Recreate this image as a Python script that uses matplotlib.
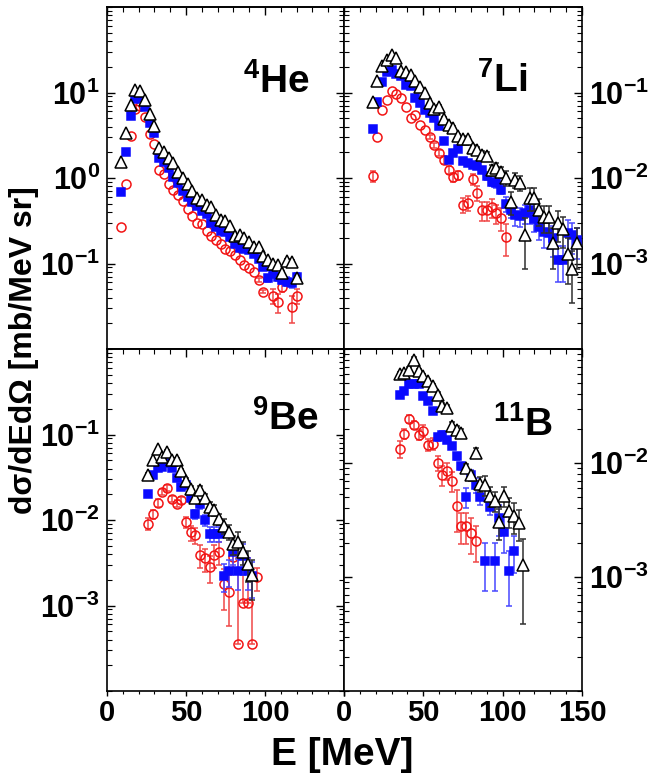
import numpy as np
import matplotlib.pyplot as plt
from matplotlib.ticker import FixedLocator, FixedFormatter, LogLocator, MultipleLocator, NullFormatter

# fonts: bold Helvetica-like everywhere
plt.rcParams['font.family'] = ['Liberation Sans', 'DejaVu Sans']
plt.rcParams['font.weight'] = 'bold'
plt.rcParams['mathtext.fontset'] = 'custom'
plt.rcParams['mathtext.rm'] = 'Liberation Sans:bold'
plt.rcParams['mathtext.it'] = 'Liberation Sans:bold'
plt.rcParams['mathtext.bf'] = 'Liberation Sans:bold'
plt.rcParams['mathtext.sf'] = 'Liberation Sans:bold'
plt.rcParams['mathtext.default'] = 'regular'

# ---- 4He ----
he_x_red = [9, 12, 15, 18, 21, 24, 27, 30, 33, 36, 39, 42, 45, 48, 51, 54, 57, 60, 63, 66, 69, 72,
            75, 78, 81, 84, 87, 90, 93, 96, 99, 105, 108, 111, 117, 120]
he_red = [0.27, 0.85, 3.1, 6.4, 7.0, 5.15, 3.25, 2.47, 1.25, 1.12, 0.85, 0.72, 0.63, 0.54, 0.43, 0.36,
          0.30, 0.29, 0.243, 0.212, 0.186, 0.167, 0.149, 0.14, 0.125, 0.109, 0.096, 0.088, 0.079, 0.064,
          0.047, 0.042, 0.035, 0.053, 0.031, 0.042]
he_red_err = [0, 0, 0, 0, 0, 0, 0, 0, 0, 0, 0, 0, 0, 0, 0, 0, 0, 0, 0, 0, 0, 0, 0, 0, 0, 0, 0, 0, 0,
              0.05, 0.05, 0.2, 0.25, 0.12, 0.35, 0.2]
he_x = [9, 12, 15, 18, 21, 24, 27, 30, 33, 36, 39, 42, 45, 48, 51, 54, 57, 60, 63, 66, 69, 72, 75,
        78, 81, 84, 87, 90, 93, 96, 99, 102, 105, 108, 111, 114, 117, 120]
he_blue = [0.684, 2.0, 5.28, 8.5, 8.7, 6.7, 4.43, 3.4, 1.73, 1.53, 1.30, 1.04, 0.875, 0.714, 0.60, 0.53,
           0.47, 0.41, 0.377, 0.294, 0.265, 0.243, 0.232, 0.203, 0.170, 0.153, 0.149, 0.143, 0.128, 0.114,
           0.0916, 0.0671, 0.0753, 0.0702, 0.0643, 0.0614, 0.0587, 0.0702]
he_blue_err = [0, 0, 0, 0, 0, 0, 0, 0, 0, 0, 0, 0, 0, 0, 0, 0, 0, 0, 0, 0, 0, 0, 0, 0, 0, 0, 0, 0, 0,
               0, 0.03, 0.1, 0.08, 0.1, 0.1, 0.12, 0.12, 0.1]
he_black = [1.53, 3.4, 7.14, 10.7, 10.45, 8.23, 5.62, 4.05, 2.26, 2.03, 1.73, 1.49, 1.19, 1.0, 0.86, 0.714,
            0.587, 0.547, 0.484, 0.459, 0.371, 0.322, 0.31, 0.277, 0.212, 0.218, 0.2, 0.178, 0.158, 0.156,
            0.1216, 0.109, 0.098, 0.0957, 0.0767, 0.1064, 0.1045, 0.0671]
he_black_err = [0, 0, 0, 0, 0, 0, 0, 0, 0, 0, 0, 0, 0, 0, 0, 0, 0, 0, 0, 0, 0, 0, 0, 0, 0, 0, 0, 0, 0,
                0, 0, 0, 0.03, 0.03, 0.05, 0.05, 0.05, 0.06]

# ---- 7Li ----
li_x_red = [18, 21, 24, 27, 30, 33, 36, 39, 42, 45, 48, 51, 54, 57, 60, 63, 66, 69, 72, 75, 78, 81, 84,
            87, 90, 93, 96, 99, 102]
li_red = [0.0106, 0.0303, 0.0619, 0.0813, 0.1047, 0.0973, 0.0873, 0.0678, 0.0508, 0.0541, 0.0413, 0.0364,
          0.0301, 0.024, 0.0197, 0.0164, 0.0125, 0.0103, 0.0107, 0.00485, 0.00517, 0.00973, 0.00667,
          0.00417, 0.00417, 0.00456, 0.00388, 0.00344, 0.00206]
li_red_err = [0.15, 0, 0, 0, 0, 0, 0, 0, 0, 0, 0, 0, 0.05, 0.06, 0.08, 0.1, 0.12, 0.12, 0.12, 0.2,
              0.2, 0.15, 0.2, 0.25, 0.25, 0.25, 0.25, 0.3, 0.4]
li_x = [18, 21, 24, 27, 30, 33, 36, 39, 42, 45, 48, 51, 54, 57, 60, 63, 66, 69, 72, 75, 78, 81, 84, 87,
        90, 93, 96, 99, 102, 105, 108, 111, 114, 117, 120, 123, 126, 129, 132, 135, 138, 141, 144, 147]
li_blue = [0.0377, 0.0776, 0.133, 0.172, 0.184, 0.164, 0.157, 0.122, 0.118, 0.0873, 0.0748, 0.0624,
           0.057, 0.0508, 0.0405, 0.027, 0.0164, 0.0197, 0.0216, 0.0157, 0.015, 0.0143, 0.0137, 0.0125,
           0.0105, 0.0089, 0.0087, 0.0073, 0.005, 0.00424, 0.0037, 0.0036, 0.00388, 0.00417, 0.0033,
           0.0027, 0.00236, 0.0023, 0.00197, 0.0011, 0.0011, 0.0023, 0.00215, 0.00188]
li_blue_err = [0, 0, 0, 0, 0, 0, 0, 0, 0, 0, 0, 0, 0, 0, 0, 0, 0.05, 0.05, 0.05, 0.06,
               0.06, 0.07, 0.07, 0.08, 0.1, 0.1, 0.12, 0.12, 0.2, 0.2, 0.25, 0.25, 0.25, 0.3, 0.3, 0.3,
               0.35, 0.35, 0.4, 0.45, 0.45, 0.4, 0.4, 0.4]
li_black = [0.0777, 0.137, 0.206, 0.242, 0.275, 0.251, 0.18, 0.175, 0.16, 0.137, 0.115, 0.098, 0.0762,
            0.0637, 0.0684, 0.0494, 0.042, 0.0387, 0.0309, 0.0288, 0.0283, 0.0225, 0.0212, 0.0188, 0.018,
            0.0125, 0.0131, 0.0117, 0.01, 0.0053, 0.0095, 0.0087, 0.00215, 0.00582, 0.00582, 0.00424,
            0.00348, 0.00348, 0.00172, 0.00296, 0.00251, 0.00129, 0.00087, 0.00172]
li_black_err = [0, 0, 0, 0, 0, 0, 0, 0, 0, 0, 0, 0, 0, 0.05, 0.05, 0.05, 0.06, 0.06, 0.07, 0.08,
                0.08, 0.08, 0.1, 0.1, 0.12, 0.15, 0.15, 0.15, 0.2, 0.3, 0.2, 0.2, 0.6, 0.3, 0.3, 0.35,
                0.35, 0.35, 0.5, 0.4, 0.4, 0.55, 0.6, 0.5]

# ---- 9Be ----
be_x_red = [26, 29, 32, 35, 38, 41, 44, 47, 50, 53, 56, 59, 62, 65, 68, 71, 74, 77, 80, 83, 86, 89, 92, 95]
be_red = [0.0091, 0.0117, 0.0158, 0.0213, 0.0235, 0.0175, 0.0156, 0.017, 0.00953, 0.00715, 0.00665,
          0.00393, 0.00356, 0.00284, 0.00393, 0.00426, 0.00179, 0.00143, 0.00366, 0.000357, 0.00106,
          0.00106, 0.000357, 0.00214]
be_red_err = [0.15, 0.12, 0.1, 0.08, 0.08, 0.08, 0.1, 0.1, 0.15, 0.2, 0.22, 0.3, 0.3, 0.35, 0.3, 0.3,
              0.5, 0.6, 0.25, 9, 2.4, 2.4, 6, 0.3]
be_x = [26, 29, 32, 35, 38, 41, 44, 47, 50, 53, 56, 59, 62, 65, 68, 71, 74, 77, 80, 83, 86, 89, 92]
be_blue = [0.0204, 0.0336, 0.0402, 0.0416, 0.0467, 0.0402, 0.0307, 0.0243, 0.0257, 0.0179, 0.0117,
           0.0153, 0.00996, 0.00684, 0.00684, 0.00684, 0.00224, 0.00251, 0.00426, 0.00251, 0.00376,
           0.00256, 0.00224]
be_blue_err = [0.05, 0.05, 0.05, 0.05, 0.05, 0.05, 0.06, 0.07, 0.07, 0.1, 0.12, 0.12, 0.15, 0.2, 0.2,
               0.2, 0.35, 0.35, 0.3, 0.4, 0.4, 0.4, 0.45]
be_black = [0.0336, 0.0498, 0.0668, 0.055, 0.0628, 0.05, 0.0498, 0.0374, 0.0286, 0.0229, 0.0183, 0.0225,
            0.0179, 0.0142, 0.0131, 0.0102, 0.0085, 0.0073, 0.0052, 0.0056, 0.0042, 0.0031, 0.0023]
be_black_err = [0.05, 0.05, 0.05, 0.05, 0.05, 0.06, 0.06, 0.07, 0.08, 0.1, 0.1, 0.12, 0.12, 0.15, 0.15,
                0.15, 0.2, 0.2, 0.25, 0.3, 0.3, 0.4, 0.5]

# ---- 11B ----
b_x_red = [35, 38, 41, 44, 47, 50, 53, 56, 59, 62, 65, 68, 71, 74, 77, 80, 83]
b_red = [0.01327, 0.01796, 0.0245, 0.0217, 0.01774, 0.01923, 0.01449, 0.01468, 0.01, 0.0078, 0.00857,
         0.007, 0.00417, 0.00278, 0.00278, 0.00243, 0.00208]
b_red_err = [0.17, 0.1, 0.08, 0.08, 0.1, 0.12, 0.12, 0.12, 0.15, 0.2, 0.17, 0.2, 0.4, 0.3, 0.3, 0.35, 0.35]
b_x_blue = [35, 38, 41, 44, 47, 50, 53, 56, 59, 62, 65, 68, 71, 74, 77, 80, 83, 86, 89, 92, 95, 98,
            101, 104, 107]
b_blue = [0.0397, 0.0431, 0.0493, 0.0493, 0.0493, 0.0385, 0.0352, 0.0284, 0.0168, 0.01774, 0.016, 0.014,
          0.01144, 0.00935, 0.005, 0.0079, 0.00646, 0.005, 0.00137, 0.00408, 0.00137, 0.0033, 0.00248,
          0.00112, 0.00168]
b_blue_err = [0.03, 0.03, 0.03, 0.03, 0.03, 0.03, 0.03, 0.05, 0.08, 0.08, 0.05, 0.05, 0.07, 0.08, 0.2,
              0.1, 0.15, 0.15, 0.45, 0.15, 0.45, 0.3, 0.35, 0.5, 0.35]
b_x_black = [35, 38, 41, 44, 47, 50, 53, 56, 59, 62, 65, 68, 71, 74, 77, 80, 83, 86, 89, 92, 95, 98,
             101, 104, 107, 110, 113]
b_black = [0.0604, 0.0616, 0.0659, 0.0806, 0.0637, 0.0576, 0.052, 0.0471, 0.0397, 0.0314, 0.0304, 0.021,
           0.0196, 0.0183, 0.00904, 0.0078, 0.01225, 0.00654, 0.00646, 0.0051, 0.00461, 0.00303, 0.0051,
           0.00382, 0.0034, 0.00298, 0.00128]
b_black_err = [0.05, 0.05, 0.05, 0.05, 0.05, 0.05, 0.05, 0.05, 0.06, 0.06, 0.06, 0.08, 0.08, 0.08, 0.08,
               0.1, 0.1, 0.15, 0.2, 0.2, 0.2, 0.3, 0.2, 0.3, 0.3, 0.3, 0.7]

RED = '#f21414'
BLUE = '#0a0aff'


def plot_series(ax, x, y, rel, marker, face, edge, ecol, ms, z):
    x = np.array(x, dtype=float)
    y = np.array(y, dtype=float)
    rel = np.array(rel, dtype=float)
    hi = rel * y
    lo = np.where(rel < 1, rel * y, 0.0)  # no lower bar when error exceeds value
    m = rel > 0
    if m.any():
        ax.errorbar(x[m], y[m], yerr=[lo[m], hi[m]], fmt='none', ecolor=ecol, elinewidth=1.1,
                    capsize=2.5, capthick=1.1, zorder=z)
    ax.plot(x, y, linestyle='none', marker=marker, ms=ms, mfc=face, mec=edge, mew=1.1, zorder=z + 1)


fig = plt.figure(figsize=(6.54, 7.78), dpi=100)

panels = [
    dict(pos=[0.1636, 0.5514, 0.3624, 0.4396], ylim=(1e-2, 1e2), dec=[1e1, 1e0, 1e-1],
         lab=['$10^{1}$', '$10^{0}$', '$10^{-1}$'], name='$^{4}$He', npos=(0.574, 0.749),
         col=0, row=0,
         data=[(he_x_red, he_red, he_red_err), (he_x, he_blue, he_blue_err), (he_x, he_black, he_black_err)]),
    dict(pos=[0.526, 0.5514, 0.3639, 0.4396], ylim=(1e-4, 1e0), dec=[1e-1, 1e-2, 1e-3],
         lab=['$10^{-1}$', '$10^{-2}$', '$10^{-3}$'], name='$^{7}$Li', npos=(0.557, 0.752),
         col=1, row=0,
         data=[(li_x_red, li_red, li_red_err), (li_x, li_blue, li_blue_err), (li_x, li_black, li_black_err)]),
    dict(pos=[0.1636, 0.1118, 0.3624, 0.4396], ylim=(1e-4, 1e0), dec=[1e-1, 1e-2, 1e-3],
         lab=['$10^{-1}$', '$10^{-2}$', '$10^{-3}$'], name='$^{9}$Be', npos=(0.61, 0.763),
         col=0, row=1,
         data=[(be_x_red, be_red, be_red_err), (be_x, be_blue, be_blue_err), (be_x, be_black, be_black_err)]),
    dict(pos=[0.526, 0.1118, 0.3639, 0.4396], ylim=(1e-4, 1e-1), dec=[1e-2, 1e-3],
         lab=['$10^{-2}$', '$10^{-3}$'], name='$^{11}$B', npos=(0.626, 0.746),
         col=1, row=1,
         data=[(b_x_red, b_red, b_red_err), (b_x_blue, b_blue, b_blue_err),
               (b_x_black, b_black, b_black_err)]),
]

for p in panels:
    ax = fig.add_axes(p['pos'])
    ax.set_yscale('log')
    ax.set_xlim(0, 150)
    ax.set_ylim(*p['ylim'])

    (xr, yr, er), (xb, yb, eb), (xk, yk, ek) = p['data']
    plot_series(ax, xr, yr, er, 'o', 'none', RED, '#f04848', 6.5, 1)
    plot_series(ax, xb, yb, eb, 's', BLUE, BLUE, '#4848ff', 6.0, 3)
    plot_series(ax, xk, yk, ek, '^', 'white', 'black', '#303030', 8.0, 5)

    for s in ax.spines.values():
        s.set_linewidth(1.2)

    # y axis: ticks on both sides, labels outside
    ax.yaxis.set_major_locator(FixedLocator(p['dec']))
    ax.yaxis.set_major_formatter(FixedFormatter(p['lab']))
    ax.yaxis.set_minor_locator(LogLocator(base=10, subs=np.arange(1, 10), numticks=20))
    ax.yaxis.set_minor_formatter(NullFormatter())
    ax.tick_params(axis='y', which='both', direction='in', left=True, right=True,
                   labelleft=(p['col'] == 0), labelright=(p['col'] == 1), labelsize=22, pad=5)
    ax.tick_params(axis='y', which='major', length=6, width=1.0)
    ax.tick_params(axis='y', which='minor', length=3.5, width=0.8)

    # x axis: labels only on the bottom row
    ax.xaxis.set_major_locator(FixedLocator([0, 50, 100, 150]))
    if p['col'] == 0:
        ax.xaxis.set_major_formatter(FixedFormatter(['0', '50', '100', '']))
    else:
        ax.xaxis.set_major_formatter(FixedFormatter(['0', '50', '100', '150']))
    ax.xaxis.set_minor_locator(MultipleLocator(10))
    ax.tick_params(axis='x', which='both', direction='out', top=False,
                   bottom=(p['row'] == 1), labelbottom=(p['row'] == 1),
                   labelsize=21, pad=2)
    ax.tick_params(axis='x', which='major', length=3.5, width=1.0)
    ax.tick_params(axis='x', which='minor', length=2, width=0.8)

    top = ax.secondary_xaxis('top')
    top.xaxis.set_major_locator(FixedLocator([0, 50, 100, 150]))
    top.xaxis.set_minor_locator(MultipleLocator(10))
    top.tick_params(axis='x', which='both', direction='in', labeltop=False)
    top.tick_params(axis='x', which='major', length=6, width=1.0)
    top.tick_params(axis='x', which='minor', length=3.5, width=0.8)
    top.spines['top'].set_linewidth(1.2)

    ax.text(p['npos'][0], p['npos'][1], p['name'], transform=ax.transAxes,
            fontsize=28, fontweight='bold', ha='left', va='baseline')

fig.text(0.036, 0.55, 'dσ/dEdΩ [mb/MeV sr]', rotation=90, fontsize=23, fontweight='bold',
         ha='center', va='center')
fig.text(0.523, 0.03, 'E [MeV]', fontsize=28, fontweight='bold', ha='center', va='center')

fig.savefig('out.png', dpi=100)
